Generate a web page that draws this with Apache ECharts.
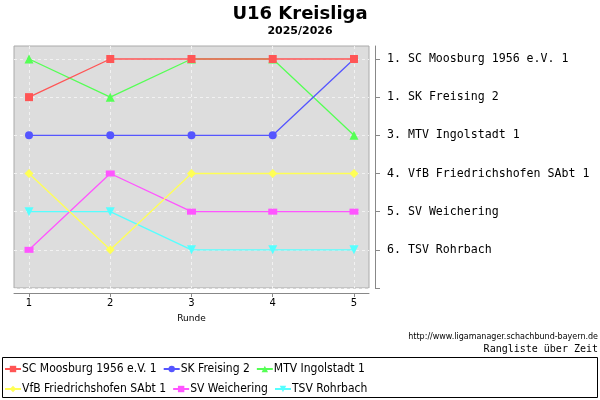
<!DOCTYPE html>
<html lang="de">
<head>
    <meta charset="UTF-8">
    <title>U16 Kreisliga</title>
    <script src="https://cdn.jsdelivr.net/npm/echarts@6/dist/echarts.min.js"></script>
</head>
<body style="margin:0">
<div id="main" style="width:600px;height:400px;"></div>
<script type="text/javascript">
    // Runden und Platzierungen je Mannschaft
    var runden = [1, 2, 3, 4, 5];
    var teams = ['SC Moosburg 1956 e.V. 1', 'SK Freising 2', 'MTV Ingolstadt 1',
        'VfB Friedrichshofen SAbt 1', 'SV Weichering', 'TSV Rohrbach'];
    var moosburg = [2, 1, 1, 1, 1];
    var freising = [3, 3, 3, 3, 1];
    var ingolstadt = [1, 2, 1, 1, 3];
    var friedrichshofen = [4, 6, 4, 4, 4];
    var weichering = [6, 4, 5, 5, 5];
    var rohrbach = [5, 5, 6, 6, 6];
    // Endstand rechts
    var endstand = ['1. SC Moosburg 1956 e.V. 1', '1. SK Freising 2', '3. MTV Ingolstadt 1',
        '4. VfB Friedrichshofen SAbt 1', '5. SV Weichering', '6. TSV Rohrbach', ''];

    var werte = [moosburg, freising, ingolstadt, friedrichshofen, weichering, rohrbach];
    var farben = ['#ff5555', '#5555ff', '#55ff55', '#ffff55', '#ff55ff', '#55ffff'];
    var symbole = ['rect', 'circle', 'triangle', 'diamond', 'rect', 'path://M0,0 L10,0 L5,10 Z'];
    var groessen = [8, 8, 9, 9, [9, 6], 9];

    var myChart = echarts.init(document.getElementById('main'));

    var series = [];
    for (var i = 0; i < teams.length; i++) {
        series.push({
            name: teams[i],
            type: 'line',
            z: 20 - i,   // erste Mannschaft liegt oben
            data: runden.map(function (r, j) { return [r, werte[i][j]]; }),
            symbol: symbole[i],
            symbolSize: groessen[i],
            itemStyle: {color: farben[i]},
            lineStyle: {color: farben[i], width: 1.3},
            animation: false
        });
    }

    var fontSans = 'DejaVu Sans';
    var fontCond = '"DejaVu Sans Condensed", "DejaVu Sans"';
    var fontMono = 'DejaVu Sans Mono';
    var legendeText = {fontFamily: fontCond, fontSize: 12, color: '#000', padding: [0, 0, 0, -4]};

    var option = {
        backgroundColor: '#fff',
        title: [
            {
                text: 'U16 Kreisliga',
                subtext: '2025/2026',
                left: 'center',
                top: 0,
                itemGap: 3,
                textStyle: {fontFamily: fontSans, fontSize: 18, fontWeight: 'bold', color: '#000'},
                subtextStyle: {fontFamily: fontSans, fontSize: 11, fontWeight: 'bold', color: '#000'}
            },
            {
                text: 'http://www.ligamanager.schachbund-bayern.de',
                right: 2,
                top: 333,
                padding: 0,
                textStyle: {fontFamily: fontSans, fontSize: 8, fontWeight: 'normal', color: '#000'}
            },
            {
                text: 'Rangliste über Zeit',
                right: 2,
                top: 344,
                padding: 0,
                textStyle: {fontFamily: fontMono, fontSize: 10, fontWeight: 'normal', color: '#000'}
            }
        ],
        grid: {
            left: 14, right: 231, top: 46, bottom: 112,
            show: true, backgroundColor: '#dddddd', borderColor: '#aaaaaa', borderWidth: 1
        },
        xAxis: {
            type: 'value',
            min: 0.815, max: 5.185,
            offset: 5,
            name: 'Runde',
            nameLocation: 'middle',
            nameGap: 21,
            nameTextStyle: {fontFamily: fontSans, fontSize: 9, color: '#000'},
            axisLine: {show: true, lineStyle: {color: '#888'}},
            axisTick: {show: true, length: 4, customValues: runden, lineStyle: {color: '#888'}},
            axisLabel: {customValues: runden, fontFamily: fontSans, fontSize: 10, color: '#000', margin: 5},
            splitLine: {show: true, lineStyle: {color: '#f2f2f2', type: [3, 3]}}
        },
        yAxis: {
            type: 'value',
            inverse: true,
            position: 'right',
            min: 0.66, max: 7,
            offset: 6,
            axisLine: {show: true, lineStyle: {color: '#888'}},
            axisTick: {show: true, length: 5, customValues: [1, 2, 3, 4, 5, 6, 7], lineStyle: {color: '#888'}},
            axisLabel: {
                customValues: [1, 2, 3, 4, 5, 6],
                fontFamily: fontMono, fontSize: 11.6, color: '#000', margin: 12,
                formatter: function (v) { return endstand[v - 1]; }
            },
            splitLine: {show: true, lineStyle: {color: '#f2f2f2', type: [3, 3]}}
        },
        legend: [
            {
                data: teams.slice(0, 3),
                left: 4, top: 363,
                padding: 0,
                itemGap: 6,
                itemWidth: 16, itemHeight: 8,
                textStyle: legendeText
            },
            {
                data: teams.slice(3),
                left: 4, top: 383,
                padding: 0,
                itemGap: 6,
                itemWidth: 16, itemHeight: 8,
                textStyle: legendeText
            }
        ],
        graphic: [{
            type: 'rect',
            shape: {x: 2.5, y: 357.5, width: 595, height: 40},
            style: {fill: 'none', stroke: '#000', lineWidth: 1},
            silent: true
        }],
        series: series
    };

    myChart.setOption(option);
</script>
</body>
</html>
